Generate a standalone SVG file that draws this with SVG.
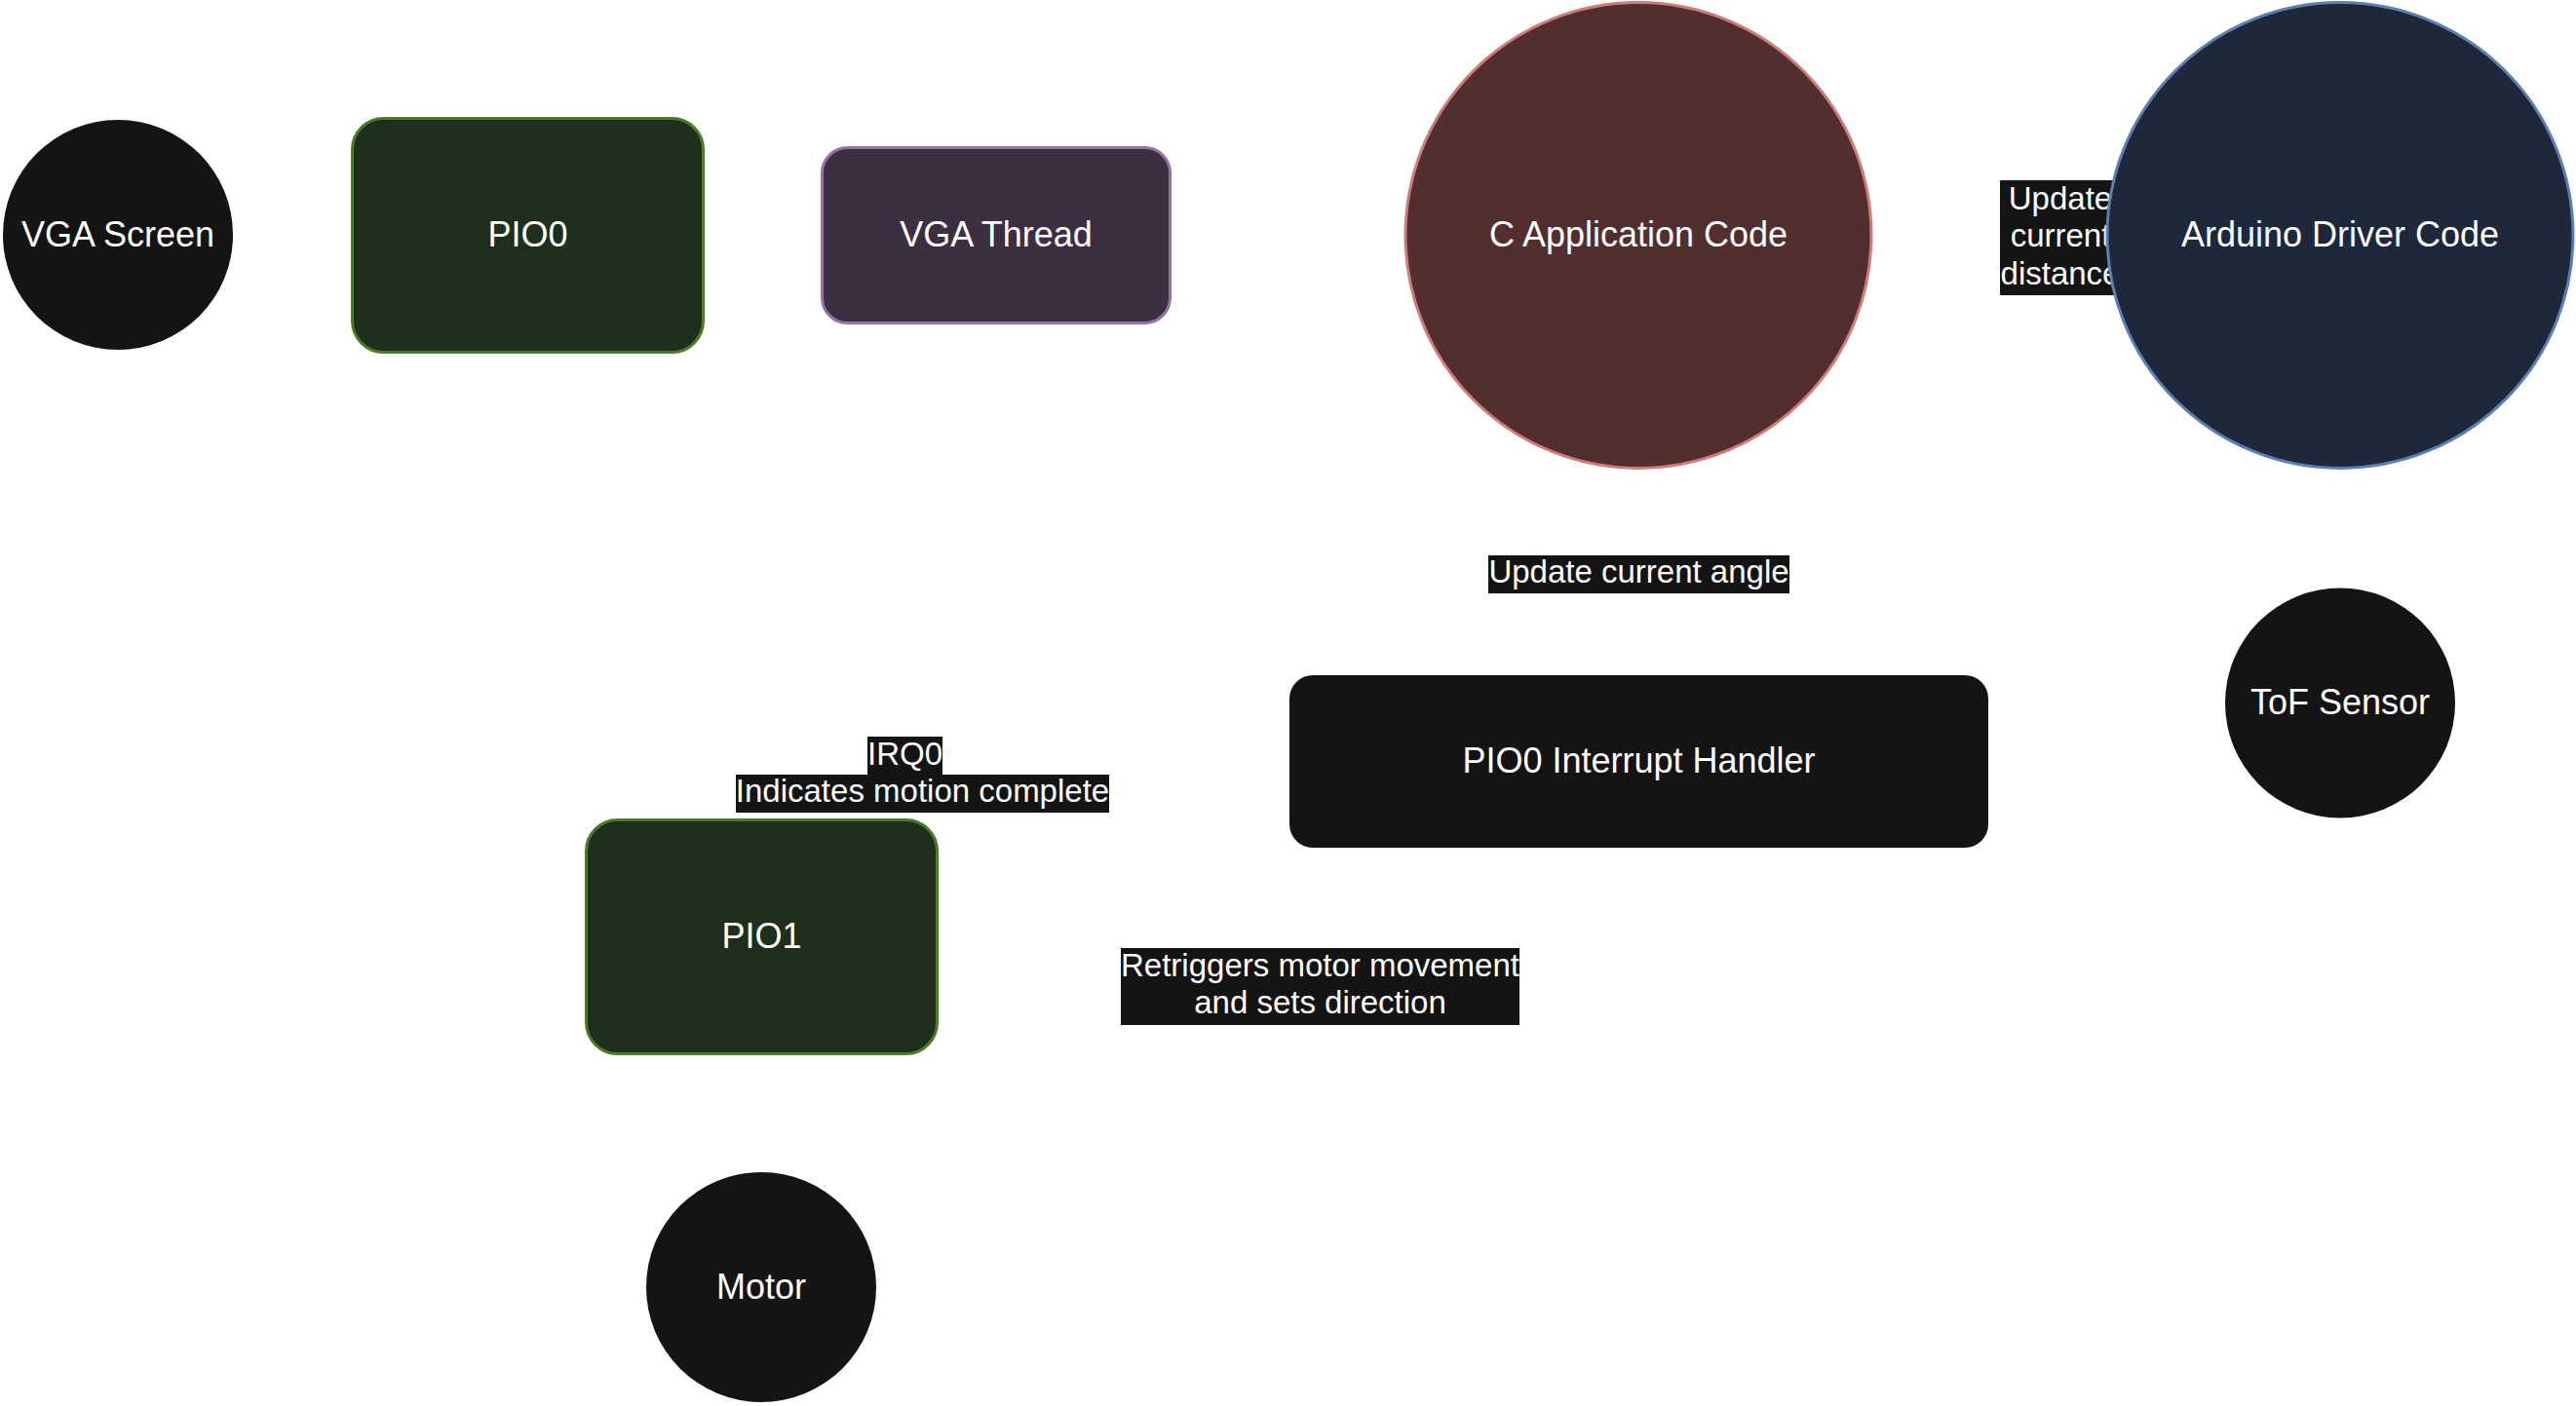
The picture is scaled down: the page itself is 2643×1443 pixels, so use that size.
<svg xmlns="http://www.w3.org/2000/svg" width="2643" height="1443" viewBox="0 0 2643 1443">
<style>
.nt{font-family:"Liberation Sans",Arial,Helvetica,sans-serif;font-size:36px;fill:#ffffff;text-anchor:middle}
.lt{font-family:"Liberation Sans",Arial,Helvetica,sans-serif;font-size:33px;fill:#ffffff;text-anchor:middle}
.lb{fill:#141414}
.dark{fill:#141414}
.green{fill:#1f2f1e;stroke:#4b7a2a;stroke-width:3}
.edge{fill:none;stroke:#ffffff;stroke-width:2}
</style>
<defs>
<marker id="arr" viewBox="0 0 10 10" refX="10" refY="5" markerWidth="8" markerHeight="8" orient="auto-start-reverse" markerUnits="userSpaceOnUse">
<path d="M0,0 L10,5 L0,10 z" fill="#ffffff"/>
</marker>
</defs>
<rect width="2643" height="1443" fill="#ffffff"/>

<g id="connectors">
<path class="edge" d="M1441,241 L1203,241" marker-end="url(#arr)"/>
<path class="edge" d="M843,241 L723,241" marker-end="url(#arr)"/>
<path class="edge" d="M361,241 L240,241" marker-end="url(#arr)"/>
<path class="edge" d="M2161,241 L1922,241" marker-end="url(#arr)"/>
<path class="edge" d="M2401,603 L2401,482" marker-end="url(#arr)"/>
<path class="edge" d="M1681,693 L1681,482" marker-end="url(#arr)"/>
<path class="edge" d="M781,841 L781,795 L1110,795 L1110,752 L1322,752" marker-end="url(#arr)"/>
<path class="edge" d="M1354,870 L1354,1012 L963,1012" marker-end="url(#arr)"/>
<path class="edge" d="M781,1082 L781,1202" marker-end="url(#arr)"/>
</g>

<g id="edge-labels">
<g id="label-distance">
<rect class="lb" x="2052" y="185" width="124" height="118"/>
<text class="lt" x="2114" y="215">Update</text>
<text class="lt" x="2114" y="253">current</text>
<text class="lt" x="2114" y="292">distance</text>
</g>
<g id="label-angle">
<rect class="lb" x="1527" y="570" width="309" height="39"/>
<text class="lt" x="1681.5" y="598">Update current angle</text>
</g>
<g id="label-irq">
<rect class="lb" x="890" y="756" width="77" height="40"/>
<rect class="lb" x="755" y="795" width="383" height="39"/>
<text class="lt" x="928.5" y="785">IRQ0</text>
<text class="lt" x="946.5" y="823">Indicates motion complete</text>
</g>
<g id="label-retrigger">
<rect class="lb" x="1150" y="973" width="409" height="79"/>
<text class="lt" x="1354.5" y="1002">Retriggers motor movement</text>
<text class="lt" x="1354.5" y="1040">and sets direction</text>
</g>
</g>

<g id="vga-screen">
<circle class="dark" cx="121" cy="241" r="118"/>
<text class="nt" x="121" y="253">VGA Screen</text>
</g>
<g id="pio0">
<rect class="green" x="361.5" y="121.5" width="360" height="240" rx="32"/>
<text class="nt" x="541.5" y="253">PIO0</text>
</g>
<g id="vga-thread">
<rect x="843.5" y="151.5" width="357" height="180" rx="26" fill="#3b2f41" stroke="#9673a6" stroke-width="3"/>
<text class="nt" x="1022" y="253">VGA Thread</text>
</g>
<g id="c-app">
<circle cx="1681" cy="241.5" r="239" fill="#522e2e" stroke="#d07b79" stroke-width="3"/>
<text class="nt" x="1681" y="253">C Application Code</text>
</g>
<g id="arduino">
<circle cx="2401" cy="241.5" r="239" fill="#1e283a" stroke="#5d7fb2" stroke-width="3"/>
<text class="nt" x="2401" y="253">Arduino Driver Code</text>
</g>
<g id="tof">
<circle class="dark" cx="2401" cy="721.5" r="118"/>
<text class="nt" x="2401" y="733">ToF Sensor</text>
</g>
<g id="irq-handler">
<rect class="dark" x="1323" y="693" width="717" height="177" rx="24"/>
<text class="nt" x="1681.5" y="793">PIO0 Interrupt Handler</text>
</g>
<g id="pio1">
<rect class="green" x="601.5" y="841.5" width="360" height="240" rx="32"/>
<text class="nt" x="781.5" y="973">PIO1</text>
</g>
<g id="motor">
<circle class="dark" cx="781" cy="1321" r="118"/>
<text class="nt" x="781" y="1333">Motor</text>
</g>
</svg>
